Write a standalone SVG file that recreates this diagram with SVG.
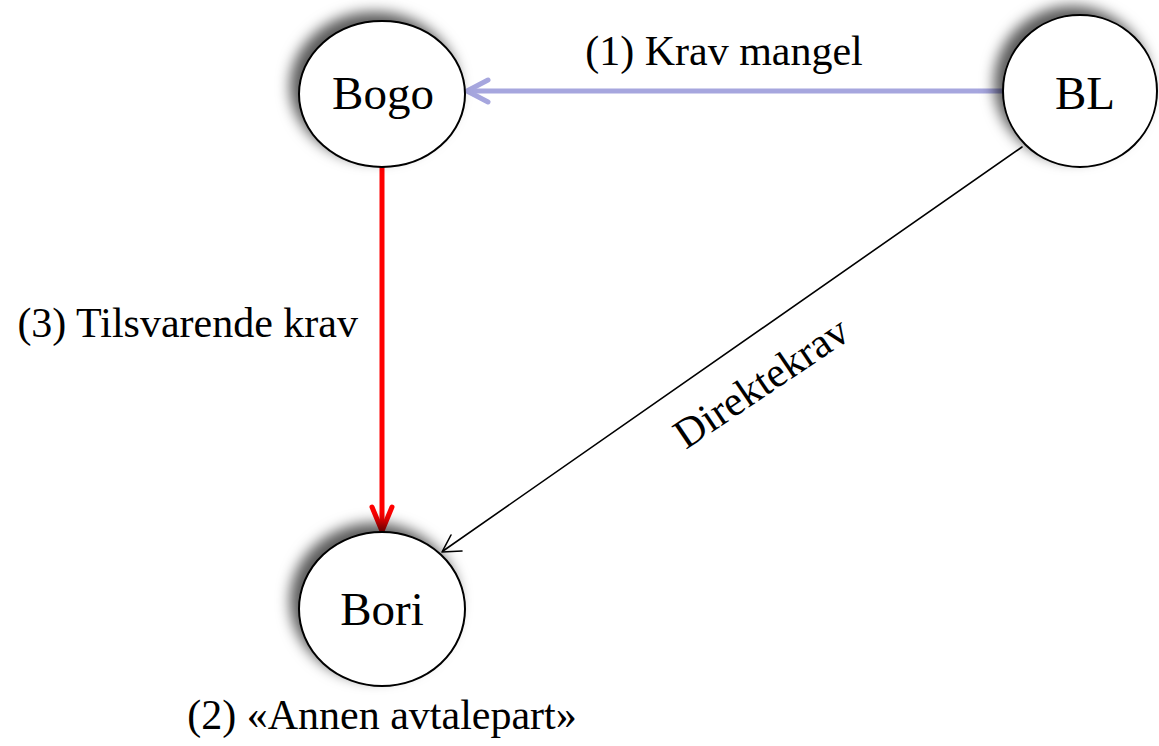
<svg xmlns="http://www.w3.org/2000/svg" width="1159" height="746" viewBox="0 0 1159 746">
<style>
.node{fill:#fff;stroke:#000;stroke-width:2;filter:url(#sh)}
text{font-family:'Liberation Serif','DejaVu Serif',serif;fill:#000}
.nt{font-size:47px;text-anchor:middle}
.lt{font-size:42px}
</style>
<defs>
<filter id="sh" x="-30%" y="-30%" width="160%" height="160%">
<feDropShadow dx="-8" dy="-8" stdDeviation="7" flood-color="#000" flood-opacity="0.65"/>
</filter>
</defs>
<g id="connectors" fill="none" stroke-linecap="round" stroke-linejoin="round">
<g id="e-bl-bogo" stroke="#a6a6de" stroke-width="5">
<line x1="1003" y1="91" x2="469" y2="91"/>
<polyline points="488,80 467,91 488,102"/>
</g>
<g id="e-bogo-bori" stroke="#ff0000" stroke-width="5">
<line x1="382" y1="167" x2="382" y2="529"/>
<polyline points="372,507 382,531 392,507"/>
</g>
<g id="e-bl-bori" stroke="#000" stroke-width="1.6">
<line x1="1022" y1="147" x2="443" y2="551"/>
<polyline points="451,535 442,552 462,551"/>
</g>
<text class="lt" x="724" y="65" text-anchor="middle">(1) Krav mangel</text>
<text class="lt" x="358" y="337" text-anchor="end">(3) Tilsvarende krav</text>
<text class="lt" x="769" y="394" text-anchor="middle" transform="rotate(-34 769 394)">Direktekrav</text>
</g>
<g id="n-bogo">
<ellipse class="node" cx="382" cy="94" rx="83" ry="73"/>
<text class="nt" x="383" y="109">Bogo</text>
</g>
<g id="n-bl">
<ellipse class="node" cx="1080" cy="91" rx="77" ry="76"/>
<text class="nt" x="1085" y="109">BL</text>
</g>
<g id="n-bori">
<ellipse class="node" cx="382" cy="609" rx="83" ry="77"/>
<text class="nt" x="382" y="625">Bori</text>
<text class="lt" x="382" y="729" text-anchor="middle">(2) «Annen avtalepart»</text>
</g>
</svg>
